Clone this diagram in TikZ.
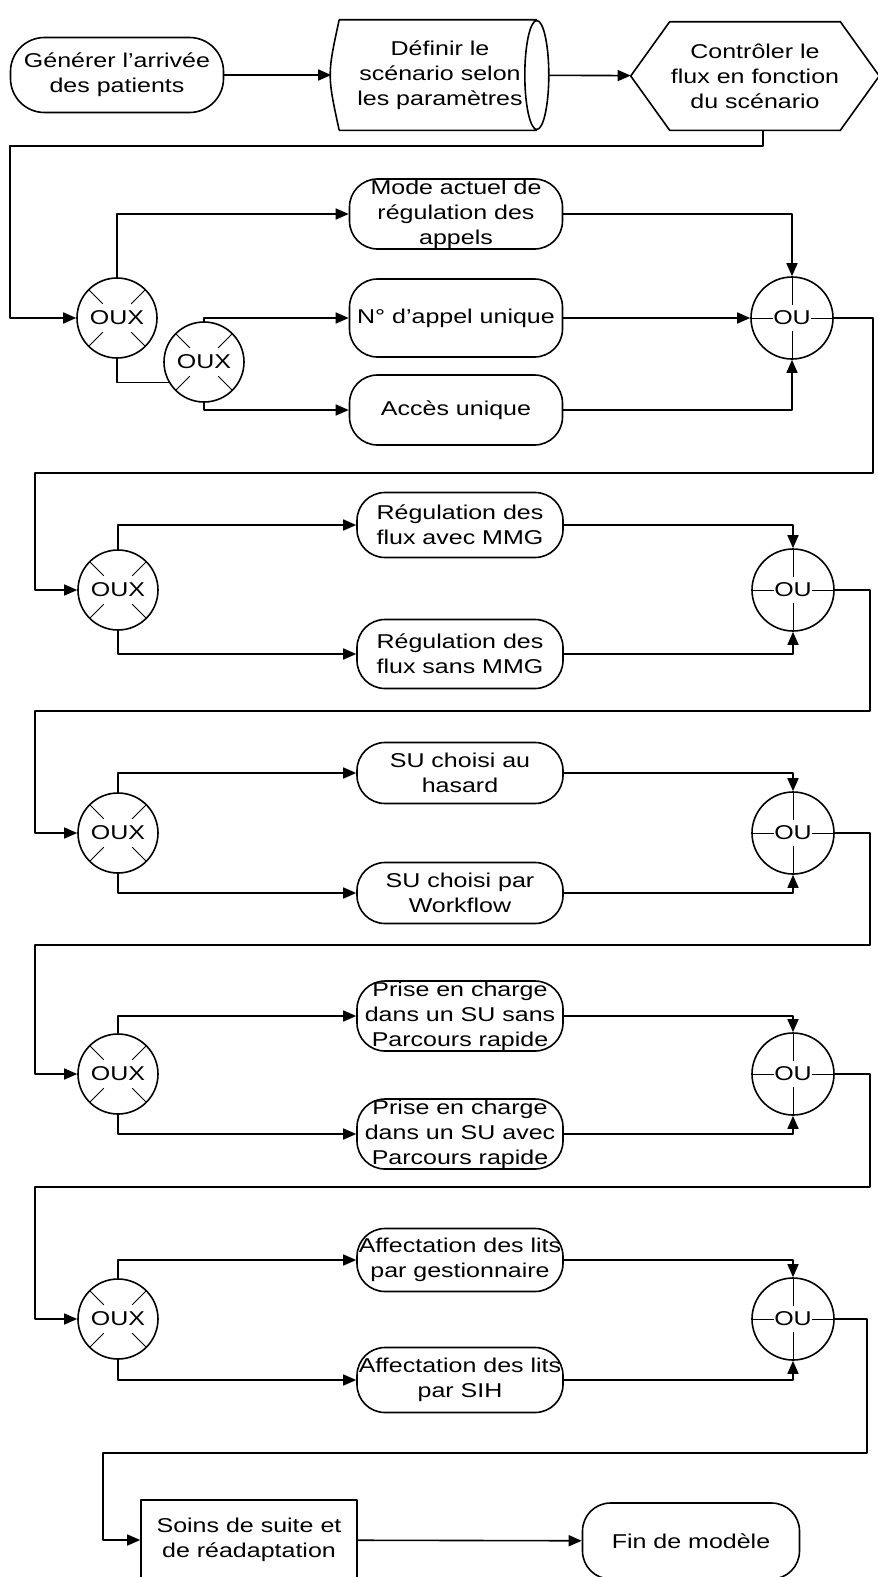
\documentclass[tikz,border=0pt]{standalone}
\usepackage{fontspec}
\setmainfont{Liberation Sans}[FakeStretch=1.25]
\usetikzlibrary{arrows.meta}
\begin{document}
\begin{tikzpicture}[x=1pt,y=-1pt,>={Triangle[length=13pt,width=11pt]},line width=1.6pt,line join=round,
	font=\fontsize{20}{25}\selectfont,every node/.style={align=center,inner sep=0pt},
	tache/.style={draw,rounded corners=28pt,minimum width=206pt,minimum height=65pt},
	oux/.style={circle,draw,minimum size=80pt,path picture={\foreach \a in {45,135,225,315}
		\draw[line width=0.9pt] ([shift={(\a:20pt)}]path picture bounding box.center)--([shift={(\a:42pt)}]path picture bounding box.center);}},
	ou/.style={circle,draw,minimum size=82pt,path picture={
		\draw[line width=1pt] (path picture bounding box.north)--([yshift=13pt]path picture bounding box.center)
		([yshift=-13pt]path picture bounding box.center)--(path picture bounding box.south)
		(path picture bounding box.west)--([xshift=-19pt]path picture bounding box.center)
		([xshift=19pt]path picture bounding box.center)--(path picture bounding box.east);}}]
	\useasboundingbox (0,0) rectangle (878,1577);
	\node[tache,minimum width=213pt,minimum height=75pt,rounded corners=34pt] (gen) at (117,75) {Générer l'arrivée\\des patients};
	\node[minimum width=216pt,minimum height=109pt] (def) at (440,75) {Définir le\\scénario selon\\les paramètres};
	\node[minimum width=247pt,minimum height=107pt] (ctrl) at (755,76) {Contrôler le\\flux en fonction\\du scénario};
	\draw ([xshift=8pt]def.north west)--([xshift=-12pt]def.north east) ([xshift=8pt]def.south west)--([xshift=-12pt]def.south east)
	([xshift=8pt]def.north west) .. controls ([xshift=-4pt]def.west) .. ([xshift=8pt]def.south west)
	([xshift=-12pt]def.east) ellipse [x radius=12pt,y radius=54.5pt];
	\draw (ctrl.west)--([xshift=39pt]ctrl.north west)--([xshift=-39pt]ctrl.north east)--(ctrl.east)
	--([xshift=-39pt]ctrl.south east)--([xshift=39pt]ctrl.south west)--cycle;
	
	\node[tache,minimum width=213pt,minimum height=70pt] (haut1) at (456,214) {Mode actuel de\\régulation des\\appels};
	\node[tache,minimum width=213pt,minimum height=78pt] (milieu1) at (456,318) {N° d'appel unique};
	\node[tache,minimum width=213pt,minimum height=70pt] (bas1) at (456,410) {Accès unique};
	\node[oux] (oux1) at (117,318) {OUX};
	\node[oux] (oux1b) at (204,362) {OUX};
	\node[ou] (ou1) at (792,318) {OU};
	
	\node[tache] (haut2) at (460,525) {Régulation des\\flux avec MMG};
	\node[tache,minimum height=69pt] (bas2) at (460,654) {Régulation des\\flux sans MMG};
	\node[oux] (oux2) at (118,590) {OUX};
	\node[ou] (ou2) at (793,590) {OU};
	
	\node[tache,minimum height=61pt] (haut3) at (460,773) {SU choisi au\\hasard};
	\node[tache,minimum height=61pt] (bas3) at (460,893) {SU choisi par\\Workflow};
	\node[oux] (oux3) at (118,833) {OUX};
	\node[ou] (ou3) at (793,833) {OU};
	
	\node[tache,minimum height=70pt] (haut4) at (460,1016) {Prise en charge\\dans un SU sans\\Parcours rapide};
	\node[tache,minimum height=70pt] (bas4) at (460,1134) {Prise en charge\\dans un SU avec\\Parcours rapide};
	\node[oux] (oux4) at (118,1074) {OUX};
	\node[ou] (ou4) at (793,1074) {OU};
	
	\node[tache,minimum height=63pt] (haut5) at (460,1260) {Affectation des lits\\par gestionnaire};
	\node[tache] (bas5) at (460,1380) {Affectation des lits\\par SIH};
	\node[oux] (oux5) at (118,1319) {OUX};
	\node[ou] (ou5) at (793,1319) {OU};
	
	\node[draw,minimum width=216pt,minimum height=80pt] (soins) at (249,1540) {Soins de suite et\\de réadaptation};
	\node[tache,minimum width=217pt,minimum height=76pt] (fin) at (691,1541) {Fin de modèle};
	
	\draw[->] (gen)--(def);
	\draw[->] (def)--(ctrl);
	\draw[->] ([xshift=8pt]ctrl.south) |- (10,146) |- (oux1.west);
	\draw (oux1.south) |- (oux1b.210);
	\draw[->] (oux1b.north) |- (milieu1.west);
	\draw[->] (oux1b.south) |- (bas1.west);
	\draw[->] (milieu1)--(ou1);
	\foreach \k in {1,...,5}{
		\draw[->] (oux\k.north) |- (haut\k.west);
		\draw[->] (haut\k.east) -| (ou\k.north);
		\draw[->] (bas\k.east) -| (ou\k.south);}
	\foreach \k in {2,...,5}
		\draw[->] (oux\k.south) |- (bas\k.west);
	\draw[->] (ou1.east) -| (873,473)--(35,473) |- (oux2.west);
	\draw[->] (ou2.east) -| (870,711)--(35,711) |- (oux3.west);
	\draw[->] (ou3.east) -| (870,945)--(35,945) |- (oux4.west);
	\draw[->] (ou4.east) -| (870,1187)--(35,1187) |- (oux5.west);
	\draw[->] (ou5.east) -| (867,1453)--(103,1453) |- (soins.west);
	\draw[->] (soins)--(fin);
\end{tikzpicture}
\end{document}
